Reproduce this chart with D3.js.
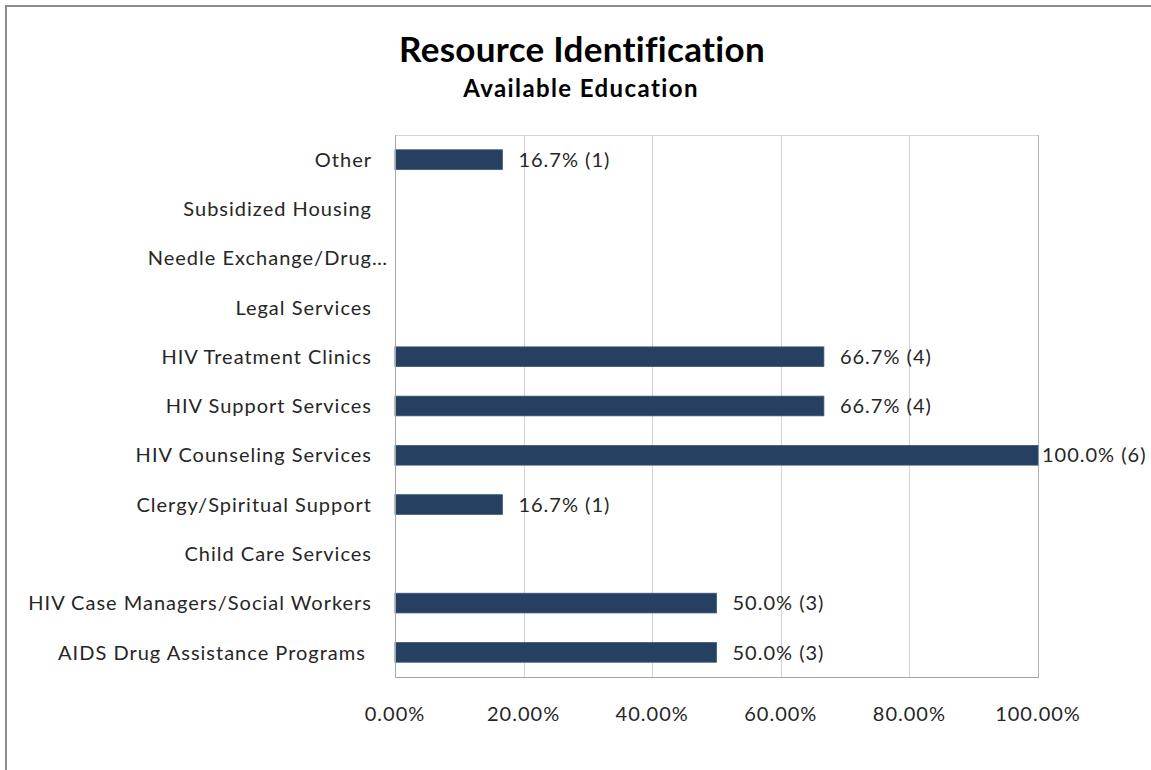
<!DOCTYPE html>
<head>
  <meta charset="utf-8">
  <script src="https://d3js.org/d3.v7.min.js"></script>
  <style>
    body { margin:0; background:#fff; }
    svg { display:block; }
    text { font-family: Lato, "Open Sans", sans-serif; fill:#262626; white-space: pre; }
    .title { font-weight:bold; fill:#000; }
    .lbl { font-size:20px; letter-spacing:1px; }
  </style>
</head>
<body>
  <script>
    // chart data, top row first
    var categories = [
      "Other",
      "Subsidized Housing",
      "Needle Exchange/Drug\u2026",
      "Legal Services",
      "HIV Treatment Clinics",
      "HIV Support Services",
      "HIV Counseling Services",
      "Clergy/Spiritual Support",
      "Child Care Services",
      "HIV Case Managers/Social Workers",
      "AIDS Drug Assistance Programs "
    ];
    var shares = [0.167, 0, 0, 0, 0.667, 0.667, 1.0, 0.167, 0, 0.5, 0.5];
    var counts = [1, 0, 0, 0, 4, 4, 6, 1, 0, 3, 3];
    var tickValues = [0, 0.2, 0.4, 0.6, 0.8, 1.0];

    var width = 1151, height = 770;
    var plot = {left: 395, right: 1038, top: 135, bottom: 677};

    var svg = d3.select("body").append("svg")
        .attr("width", width)
        .attr("height", height);

    // outer chart frame (runs off the right and bottom edge)
    svg.append("rect")
        .attr("x", 6).attr("y", 6)
        .attr("width", width + 20).attr("height", height + 20)
        .attr("fill", "none")
        .attr("stroke", "#8c8c8c")
        .attr("stroke-width", 2);

    svg.append("text").attr("class", "title")
        .attr("x", 582).attr("y", 62)
        .attr("text-anchor", "middle")
        .style("font-size", "35px")
        .style("letter-spacing", "0.3px")
        .text("Resource Identification");
    svg.append("text").attr("class", "title")
        .attr("x", 581).attr("y", 97)
        .attr("text-anchor", "middle")
        .style("font-size", "24px")
        .style("letter-spacing", "1.4px")
        .text("Available Education");

    var x = d3.scaleLinear().domain([0, 1]).range([plot.left, plot.right]);
    var y = d3.scaleBand().domain(categories)
        .range([plot.top, plot.bottom])
        .paddingInner(0.6).paddingOuter(0.3);

    // plot area border + gridlines
    svg.append("rect")
        .attr("x", plot.left + 0.5).attr("y", plot.top + 0.5)
        .attr("width", plot.right - plot.left)
        .attr("height", plot.bottom - plot.top)
        .attr("fill", "none")
        .attr("stroke", "#d4d4d4");
    svg.append("g").selectAll("line")
      .data(tickValues)
      .enter().append("line")
        .attr("x1", function(d) { return Math.round(x(d)) + 0.5; })
        .attr("x2", function(d) { return Math.round(x(d)) + 0.5; })
        .attr("y1", plot.top).attr("y2", plot.bottom)
        .attr("stroke", function(d) { return d === 1 ? "#b4b4b4" : "#d4d4d4"; });

    // bars
    svg.append("g").selectAll("rect")
      .data(categories)
      .enter().append("rect")
        .attr("x", x(0))
        .attr("y", function(d) { return y(d); })
        .attr("width", function(d, i) { return x(shares[i]) - x(0); })
        .attr("height", y.bandwidth())
        .attr("fill", "#264061")
        .attr("stroke", "#3d5678")
        .attr("stroke-width", function(d, i) { return shares[i] > 0 ? 0.8 : 0; });

    // value labels
    var pct = d3.format(".1%");
    svg.append("g").selectAll("text")
      .data(categories.filter(function(d, i) { return shares[i] > 0; }))
      .enter().append("text")
        .attr("class", "lbl")
        .attr("x", function(d) {
          var i = categories.indexOf(d);
          return x(shares[i]) + (shares[i] >= 1 ? 4 : 16);
        })
        .attr("y", function(d) { return y(d) + y.bandwidth() / 2; })
        .attr("dy", "0.36em")
        .text(function(d) {
          var i = categories.indexOf(d);
          return pct(shares[i]) + " (" + counts[i] + ")";
        });

    // axes lines
    svg.append("line")
        .attr("x1", plot.left + 0.5).attr("x2", plot.left + 0.5)
        .attr("y1", plot.top).attr("y2", plot.bottom + 1)
        .attr("stroke", "#a6a6a6");
    svg.append("line")
        .attr("x1", plot.left).attr("x2", plot.right + 1)
        .attr("y1", plot.bottom + 0.5).attr("y2", plot.bottom + 0.5)
        .attr("stroke", "#a6a6a6");

    // category labels; a truncation ellipsis hangs past the label edge
    var labelX = plot.left - 23;
    var cat = svg.append("g").selectAll("g")
      .data(categories)
      .enter().append("g")
        .attr("transform", function(d) {
          return "translate(" + labelX + "," + (y(d) + y.bandwidth() / 2) + ")";
        });
    cat.append("text")
        .attr("class", "lbl")
        .attr("dy", "0.36em")
        .attr("text-anchor", "end")
        .text(function(d) { return d.replace(/\u2026$/, ""); });
    cat.filter(function(d) { return /\u2026$/.test(d); })
      .append("text")
        .attr("class", "lbl")
        .attr("x", 0)
        .attr("dy", "0.36em")
        .text("\u2026");

    // x tick labels
    var tickFmt = d3.format(".2%");
    svg.append("g").selectAll("text")
      .data(tickValues)
      .enter().append("text")
        .attr("class", "lbl")
        .attr("x", function(d) { return x(d); })
        .attr("y", 721)
        .attr("text-anchor", "middle")
        .text(function(d) { return tickFmt(d); });
  </script>
</body>
